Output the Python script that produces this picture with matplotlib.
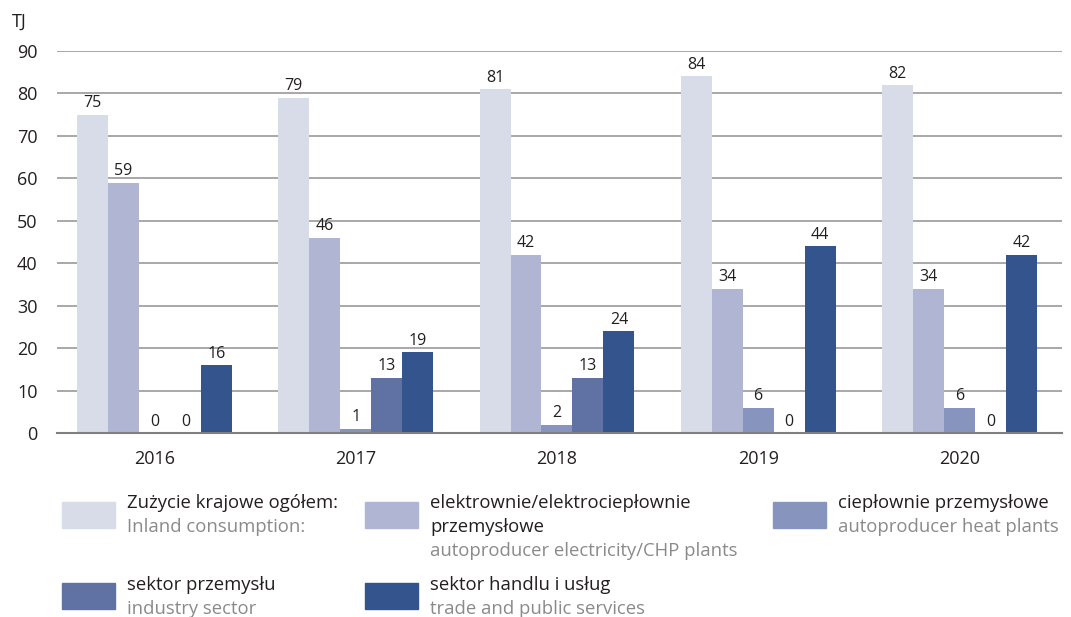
import matplotlib.pyplot as plt
import matplotlib.patches as mpatches
import numpy as np

plt.rcParams['font.family'] = ['Open Sans', 'DejaVu Sans']

years = ['2016', '2017', '2018', '2019', '2020']
inland = [75, 79, 81, 84, 82]
chp_plants = [59, 46, 42, 34, 34]
heat_plants = [0, 1, 2, 6, 6]
industry = [0, 13, 13, 0, 0]
trade = [16, 19, 24, 44, 42]

series = [inland, chp_plants, heat_plants, industry, trade]
colors = ['#d8dbe8', '#b0b5d3', '#8794bd', '#6072a3', '#33548c']
names_pl = [['Zużycie krajowe ogółem:'], ['elektrownie/elektrociepłownie', 'przemysłowe'],
            ['ciepłownie przemysłowe'], ['sektor przemysłu'], ['sektor handlu i usług']]
names_en = ['Inland consumption:', 'autoproducer electricity/CHP plants',
            'autoproducer heat plants', 'industry sector', 'trade and public services']

W, H = 1071, 617
fig = plt.figure(figsize=(W / 100, H / 100), dpi=100)
ax = fig.add_axes([57 / W, 1 - 433 / H, 1005 / W, 382 / H])

x = np.arange(len(years))
bw = 0.154
for i, (vals, c) in enumerate(zip(series, colors)):
    pos = x + (i - 2) * bw
    ax.bar(pos, vals, width=bw, color=c, zorder=3)
    for p, v in zip(pos, vals):
        ax.text(p, v + 0.8, f'{v}', ha='center', va='bottom', fontsize=11.5, color='#231f20')

ax.set_xlim(-0.485, 4.51)
ax.set_ylim(0, 90)
ax.set_yticks(range(0, 91, 10))
ax.set_xticks(x)
ax.set_xticklabels(years)
ax.grid(axis='y', color='#9a9a9a', linewidth=1.2, zorder=0)
for s in ['top', 'right', 'left']:
    ax.spines[s].set_visible(False)
ax.spines['bottom'].set_color('#808080')
ax.spines['bottom'].set_linewidth(1.5)
ax.spines['bottom'].set_zorder(4)
ax.tick_params(axis='both', length=0, labelsize=13, colors='#231f20')
ax.tick_params(axis='y', pad=14)
ax.tick_params(axis='x', pad=12)
fig.text(12 / W, 1 - 22 / H, 'TJ', fontsize=13, color='#231f20', va='center')

# legend drawn by hand in figure pixels: (patch left, patch top, first text baseline)
legend_slots = [(62, 502, 508), (365, 502, 508), (773, 502, 508), (62, 583, 590), (365, 583, 590)]
pitch = 24
for (lx, ly, base), c, pl, en in zip(legend_slots, colors, names_pl, names_en):
    fig.patches.append(mpatches.Rectangle((lx / W, 1 - (ly + 26) / H), 53 / W, 26 / H,
                                          transform=fig.transFigure, color=c))
    for k, line in enumerate(pl):
        fig.text((lx + 65) / W, 1 - (base + k * pitch) / H, line, fontsize=13.3,
                 color='#231f20', va='baseline')
    fig.text((lx + 65) / W, 1 - (base + len(pl) * pitch) / H, en, fontsize=13.3,
             color='#8a8a8a', va='baseline')

fig.savefig('out.png', dpi=100)
